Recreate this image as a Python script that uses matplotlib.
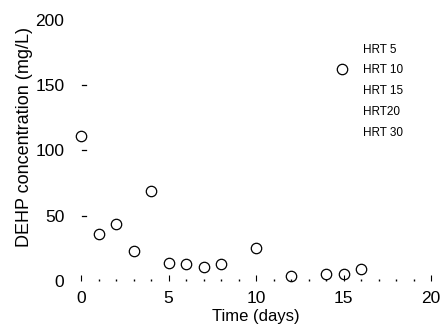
import matplotlib.pyplot as plt
from matplotlib.lines import Line2D
import numpy as np

plt.rcParams['font.family'] = ['Liberation Sans', 'DejaVu Sans']

# HRT 10 series
days = [0, 1, 2, 3, 4, 5, 6, 7, 8, 10, 12, 14, 15, 16]
dehp = [111, 36, 44, 23, 69, 14, 13, 11, 13, 25, 4, 5, 5, 9]
legend_labels = ['HRT 5', 'HRT 10', 'HRT 15', 'HRT20', 'HRT 30']

fig = plt.figure(figsize=(4.45, 3.31), dpi=100)
ax = fig.add_axes([0.182, 0.151, 0.787, 0.789])

ax.plot(days, dehp, 'o', mfc='none', mec='black', ms=7.5, mew=0.9, clip_on=False)

ax.set_xlim(0, 20)
ax.set_ylim(0, 200)
for s in ax.spines.values():
    s.set_visible(False)

ax.set_xticks([0, 5, 10, 15, 20])
ax.set_xticks(np.arange(0, 20), minor=True)
ax.set_yticks([0, 50, 100, 150, 200])
ax.tick_params(axis='x', which='major', direction='in', length=4, width=0.8, pad=7, labelsize=12.5)
ax.tick_params(axis='x', which='minor', direction='in', length=1.5, width=1)
ax.tick_params(axis='y', which='major', direction='in', length=0, pad=12, labelsize=12.5)
for v in [50, 100, 150]:
    ax.plot([0.05, 0.28], [v, v], color='black', lw=0.9, clip_on=False)

ax.set_xlabel('Time (days)', fontsize=12, labelpad=2)
ax.set_ylabel('DEHP concentration (mg/L)', fontsize=13, labelpad=0)
ax.yaxis.set_label_coords(-0.137, 0.55)

handles = [Line2D([], [], ls='none', marker='o' if lab == 'HRT 10' else None,
                  mfc='none', mec='black', ms=7.5, mew=0.9) for lab in legend_labels]
ax.legend(handles, legend_labels, loc='upper left', bbox_to_anchor=(0.68, 0.95),
          frameon=False, fontsize=8.5, labelspacing=0.75, handletextpad=0.8,
          handlelength=2)

fig.savefig('out.png', dpi=100)
